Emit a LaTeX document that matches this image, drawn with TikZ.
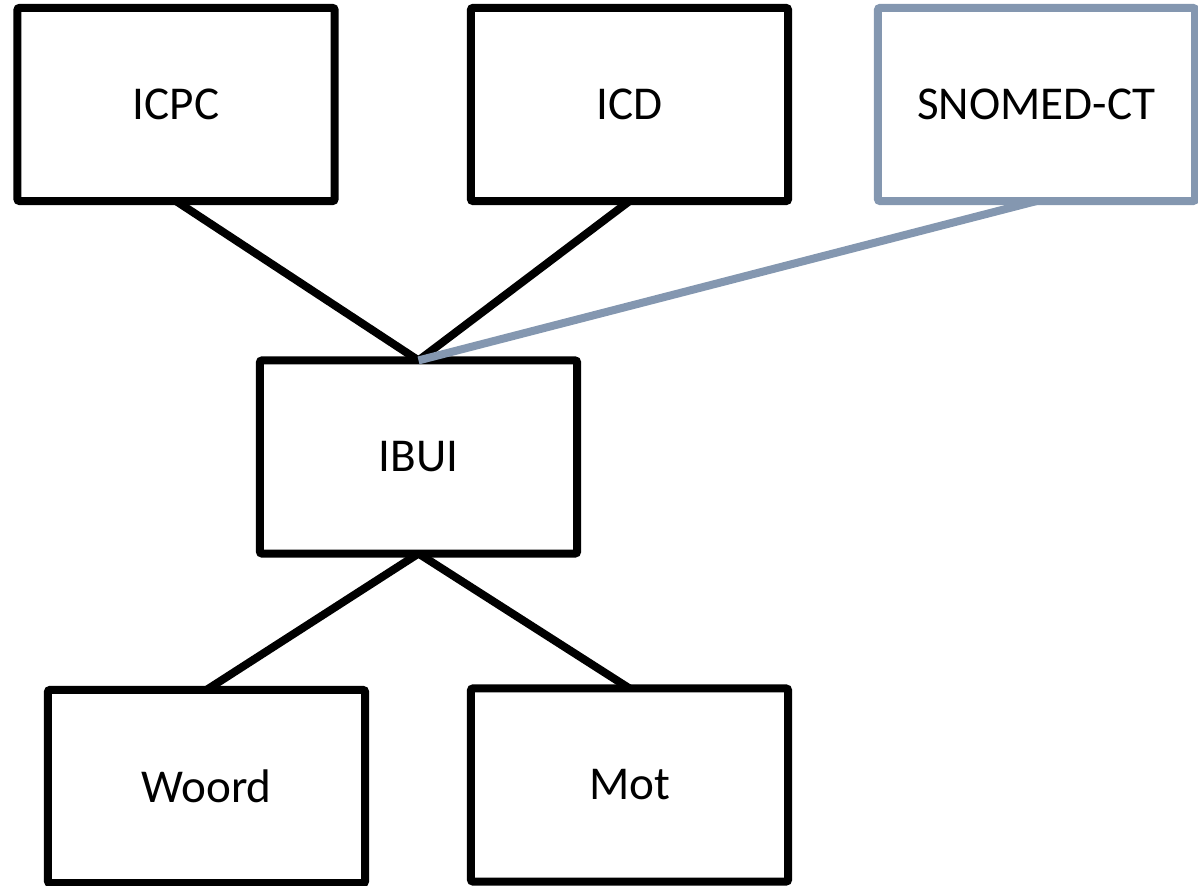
\documentclass[tikz,border=0pt]{standalone}
\usepackage{fontspec}
\setmainfont{Carlito}
\definecolor{snomedblue}{HTML}{8497B0}
\begin{document}
\begin{tikzpicture}[x=0.01cm,y=-0.01cm,
  box/.style={draw=black, line width=0.08cm, fill=white, rounded corners=0.6pt,
    minimum width=3.17cm, minimum height=1.93cm, inner sep=0pt, outer sep=0pt,
    font=\fontsize{13.4pt}{16pt}\selectfont},
  graybox/.style={box, draw=snomedblue},
  link/.style={draw=black, line width=0.08cm},
  graylink/.style={link, draw=snomedblue}]
\useasboundingbox (0,0) rectangle (1198,886);
\node[box] (icpc) at (176,104.5) {ICPC};
\node[box] (icd) at (629.5,104.5) {ICD};
\node[graybox] (snomed) at (1036.5,104.5) {SNOMED-CT};
\node[box] (ibui) at (418.5,457) {IBUI};
\node[box] (woord) at (206.5,786.5) {Woord};
\node[box] (mot) at (629.5,785) {Mot};
\draw[link] (icpc.south) -- (ibui.north);
\draw[link] (icd.south) -- (ibui.north);
\draw[graylink] (snomed.south) -- (ibui.north);
\draw[link] (ibui.south) -- (woord.north);
\draw[link] (ibui.south) -- (mot.north);
\end{tikzpicture}
\end{document}
